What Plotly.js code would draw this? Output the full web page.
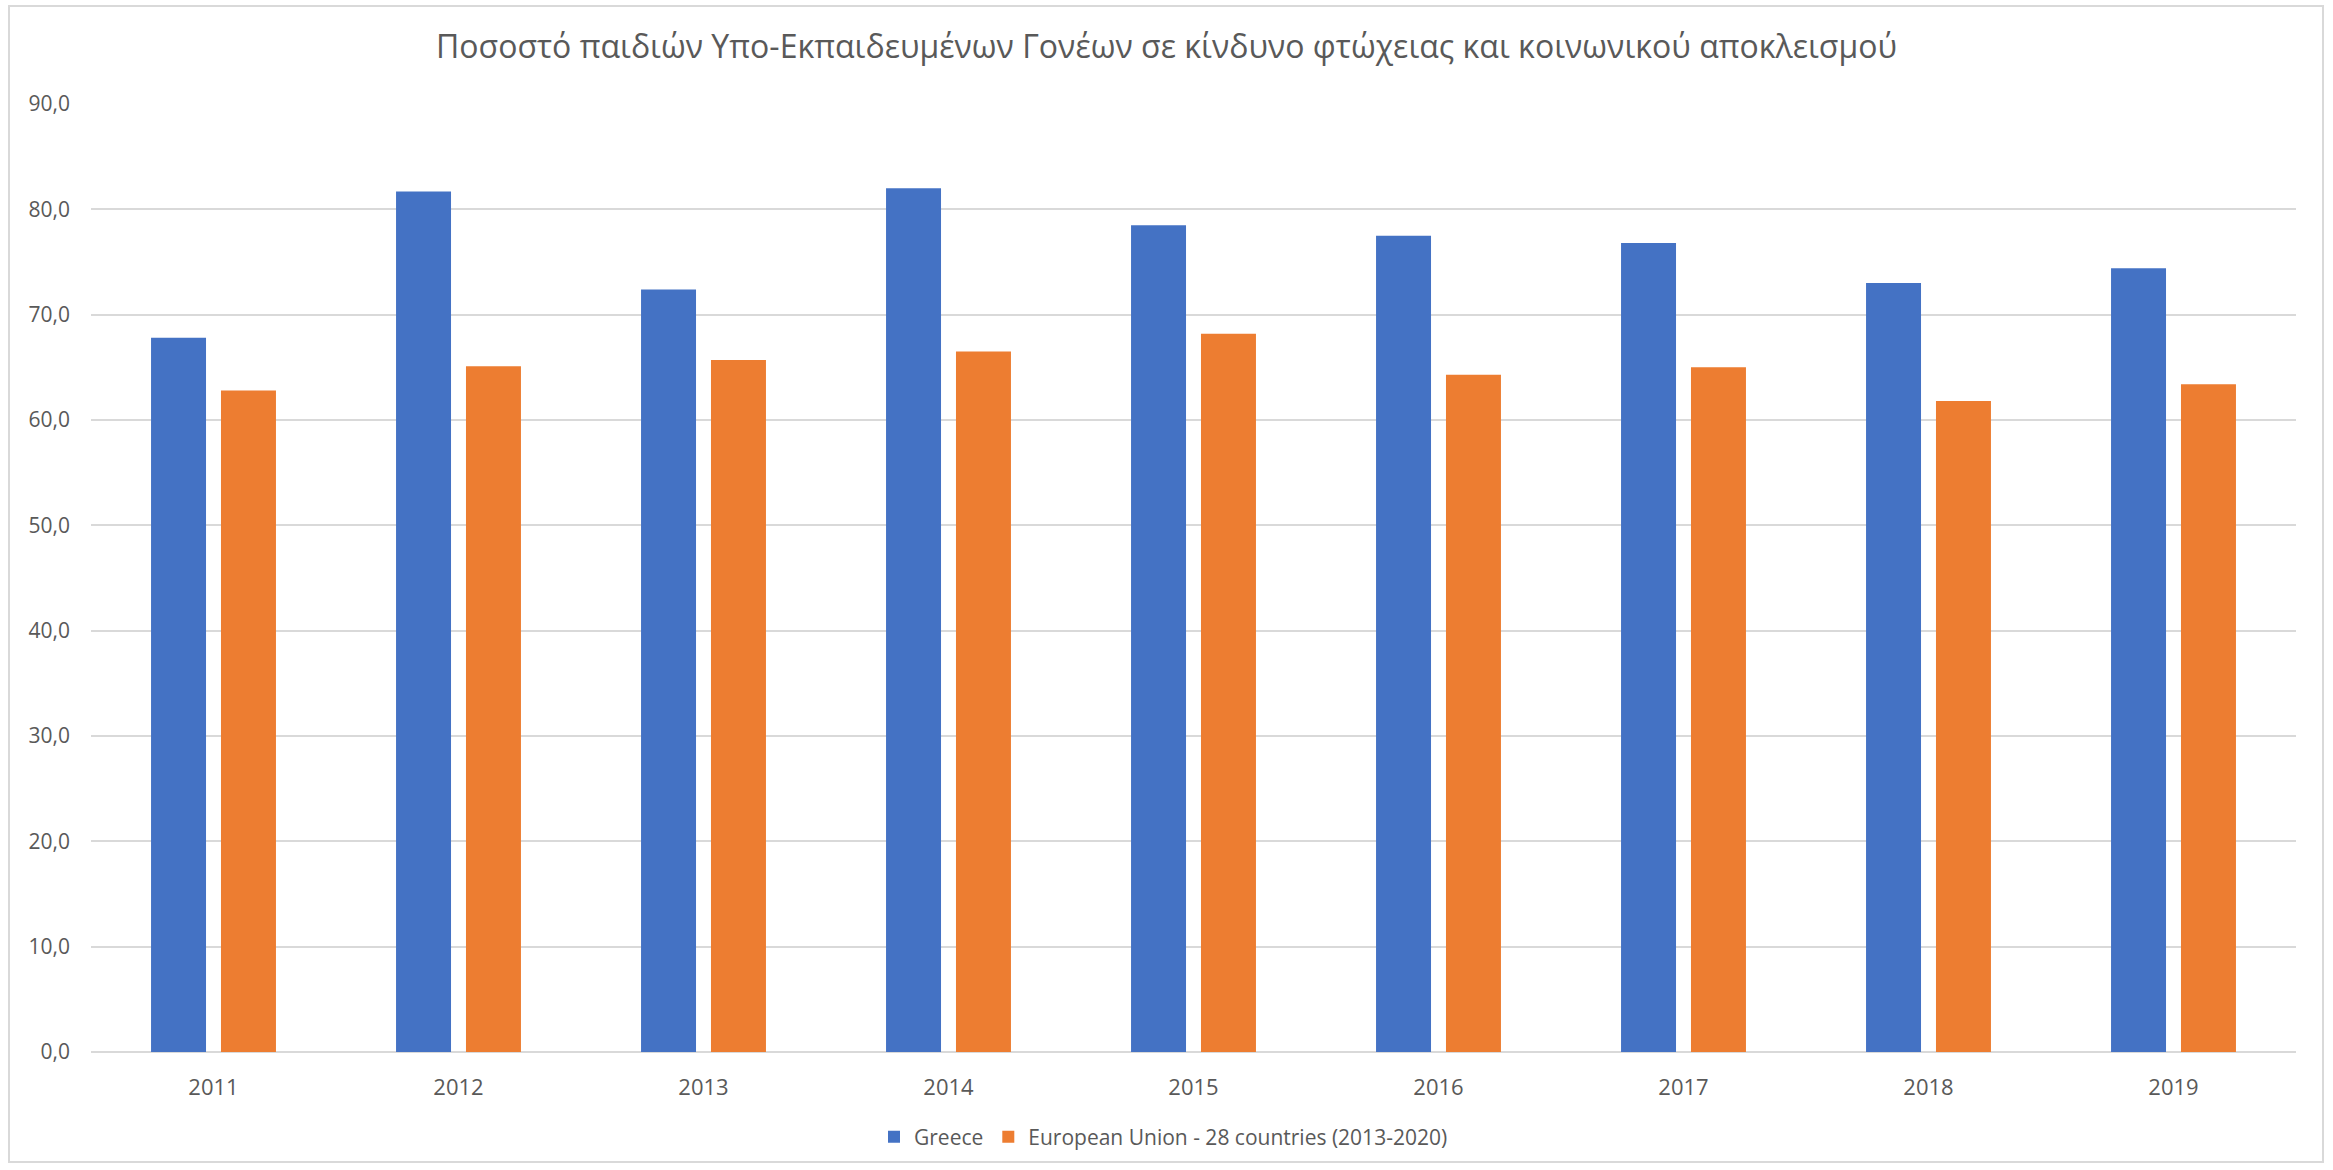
<!DOCTYPE html>
<html>
<head>
<meta charset="utf-8">
<script src="https://cdn.plot.ly/plotly-3.0.1.min.js"></script>
<style>
  html, body { margin: 0; padding: 0; background: #fff; }
  #wrap { position: relative; width: 2333px; height: 1170px; }
  #chart { position: absolute; left: 0; top: 0; width: 2333px; height: 1170px; }
  #frame { position: absolute; left: 8px; top: 5px; width: 2316px; height: 1158px; border: 2px solid #d9d9d9; pointer-events: none; box-sizing: border-box; }
</style>
</head>
<body>
<div id="wrap">
  <div id="chart"></div>
  <div id="frame"></div>
</div>
<script>
const years = ['2011', '2012', '2013', '2014', '2015', '2016', '2017', '2018', '2019'];
const greece = [67.8, 81.7, 72.4, 82.0, 78.5, 77.5, 76.8, 73.0, 74.4];
const eu28 = [62.8, 65.1, 65.7, 66.5, 68.2, 64.3, 65.0, 61.8, 63.4];
const seriesNames = ['Greece', 'European Union - 28 countries (2013-2020)'];
const titleText = 'Ποσοστό παιδιών Υπο-Εκπαιδευμένων Γονέων σε κίνδυνο φτώχειας και κοινωνικού αποκλεισμού';

const FONT = '"Open Sans", "Noto Sans", sans-serif';
const GREY = '#595959';

const traces = [
  { type: 'bar', name: seriesNames[0], x: years, y: greece, marker: { color: '#4472C4' }, hoverinfo: 'none' },
  { type: 'bar', name: seriesNames[1], x: years, y: eu28, marker: { color: '#ED7D31' }, hoverinfo: 'none' }
];

const layout = {
  width: 2333,
  height: 1170,
  paper_bgcolor: '#ffffff',
  plot_bgcolor: '#ffffff',
  separators: ',.',
  margin: { l: 91, r: 37, t: 104, b: 118, pad: 0 },
  title: {
    text: titleText,
    font: { family: FONT, size: 32, color: GREY },
    x: 0.5, xanchor: 'center',
    y: 1 - 47 / 1170, yref: 'container', yanchor: 'middle'
  },
  barmode: 'group',
  bargap: 0.429,
  bargroupgap: 0.214,
  xaxis: {
    type: 'category',
    tickfont: { family: FONT, size: 22, color: GREY },
    showgrid: false,
    showline: false,
    ticks: '',
    zeroline: false,
    ticklabelstandoff: 20
  },
  yaxis: {
    range: [0, 90],
    dtick: 10,
    tick0: 0,
    tickformat: '.1f',
    tickfont: { family: FONT, size: 21, color: GREY },
    showgrid: true,
    gridcolor: '#d9d9d9',
    gridwidth: 2,
    zeroline: true,
    zerolinecolor: '#d9d9d9',
    zerolinewidth: 2,
    showline: false,
    ticks: '',
    ticklabelstandoff: 20
  },
  showlegend: true,
  legend: {
    orientation: 'h',
    x: 0.5 - 30 / 2205, xanchor: 'center',
    y: -(1137 - 1052) / 948, yanchor: 'middle',
    font: { family: FONT, size: 21, color: GREY },
    itemwidth: 30,
    traceorder: 'normal'
  }
};

Plotly.newPlot('chart', traces, layout, { displayModeBar: false, staticPlot: true });
</script>
</body>
</html>
